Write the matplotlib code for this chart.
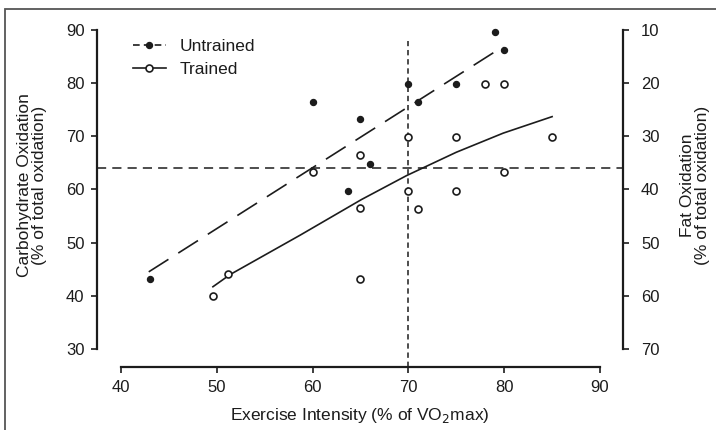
import matplotlib
matplotlib.use('Agg')
import matplotlib.pyplot as plt
from matplotlib.lines import Line2D
from matplotlib.patches import Rectangle

plt.rcParams['font.family'] = ['Liberation Sans', 'DejaVu Sans']
ink = '#1c1c1c'

# values (x = % VO2max, y = carbohydrate oxidation %)
untrained_x = [43, 60, 63.7, 65, 66, 70, 71, 75, 79, 80]
untrained_cho = [43.2, 76.5, 59.8, 73.2, 64.8, 79.8, 76.5, 79.8, 89.7, 86.2]
trained_x = [49.6, 51.2, 60, 65, 65, 65, 70, 70, 71, 75, 75, 78, 80, 80, 85]
trained_cho = [40.0, 44.1, 63.2, 66.5, 56.6, 43.2, 69.8, 59.8, 56.4, 69.8, 59.8, 79.8, 79.8, 63.2, 69.8]

# fitted lines
untrained_fit_x = [42.9, 79.9]
untrained_fit_cho = [44.5, 86.9]
trained_fit_x = [49.6, 51.4, 58.7, 65.1, 69.8, 75, 79.9, 85]
trained_fit_cho = [41.7, 44.0, 51.4, 58.1, 62.6, 67.0, 70.6, 73.7]

# crossover point
cross_x = 70
cross_cho = 64
cross_top = 88

x_ticks = [40, 50, 60, 70, 80, 90]
cho_ticks = [30, 40, 50, 60, 70, 80, 90]
fat_ticks = [10, 20, 30, 40, 50, 60, 70]

fig = plt.figure(figsize=(7.16, 4.30), dpi=100)
ax = fig.add_axes([97 / 716, 1 - 367 / 430, 526 / 716, 337 / 430])
xlim = (37.5, 92.4)
ylim = (26.6, 90)
ax.set_xlim(xlim)
ax.set_ylim(ylim)

# reference lines
ax.axhline(cross_cho, color=ink, lw=1.1, ls=(0, (6, 4)))
ax.axvline(cross_x, ymax=(cross_top - ylim[0]) / (ylim[1] - ylim[0]),
           color=ink, lw=1.1, ls=(0, (3.5, 2.5)))

# fits
ax.plot(untrained_fit_x, untrained_fit_cho, color=ink, lw=1.2, ls=(0, (14, 7)))
ax.plot(trained_fit_x, trained_fit_cho, color=ink, lw=1.2)

# points
ax.plot(untrained_x, untrained_cho, 'o', ms=4.3, color=ink, clip_on=False)
ax.plot(trained_x, trained_cho, 'o', ms=5, mfc='white', mec=ink, mew=1.2, clip_on=False)

for s in ['top', 'right']:
    ax.spines[s].set_visible(False)
ax.spines['left'].set_bounds(30, 90)
ax.spines['bottom'].set_bounds(40, 90)
for s in ['left', 'bottom']:
    ax.spines[s].set_linewidth(1.6)
    ax.spines[s].set_color(ink)
ax.set_xticks(x_ticks)
ax.set_yticks(cho_ticks)
ax.tick_params(axis='both', direction='out', length=4, width=1.2, color=ink,
               labelsize=12, labelcolor=ink)
ax.tick_params(axis='x', pad=5)
ax.tick_params(axis='y', pad=5)

ax.set_xlabel('Exercise Intensity (% of VO$_2$max)', fontsize=12.5, color=ink, labelpad=8)
ax.set_ylabel('Carbohydrate Oxidation\n(% of total oxidation)', fontsize=12.5,
              color=ink, linespacing=1.0)
ax.yaxis.set_label_coords(-0.096, 0.54)

# right axis: fat = 100 - carbohydrate
ax2 = ax.twinx()
ax2.set_ylim(100 - ylim[0], 100 - ylim[1])
ax2.set_yticks(fat_ticks)
for s in ['top', 'left', 'bottom']:
    ax2.spines[s].set_visible(False)
ax2.spines['right'].set_bounds(10, 70)
ax2.spines['right'].set_linewidth(1.6)
ax2.spines['right'].set_color(ink)
ax2.tick_params(axis='y', direction='out', length=4, width=1.2, color=ink,
                labelsize=12, labelcolor=ink, pad=9)
ax2.set_ylabel('Fat Oxidation\n(% of total oxidation)', fontsize=12.5, color=ink,
               linespacing=1.0)
ax2.yaxis.set_label_coords(1.108, 0.54)

handles = [
    Line2D([], [], color=ink, lw=1.2, ls=(0, (4, 2.5)), marker='o', ms=4.3),
    Line2D([], [], color=ink, lw=1.2, marker='o', ms=5, mfc='white', mew=1.2),
]
ax.legend(handles, ['Untrained', 'Trained'], loc='upper left', frameon=False,
          bbox_to_anchor=(126 / 716, 1 - 32 / 430), bbox_transform=fig.transFigure,
          fontsize=12.5, handlelength=1.9, handletextpad=0.8, labelspacing=0.45,
          labelcolor=ink, borderaxespad=0)

# frame around the figure
fig.add_artist(Rectangle((5 / 716, -0.05), 1.0, 1.05 - 9 / 430,
                         transform=fig.transFigure, fill=False, ec='#555555', lw=1.3))

fig.savefig('out.png', dpi=100)
